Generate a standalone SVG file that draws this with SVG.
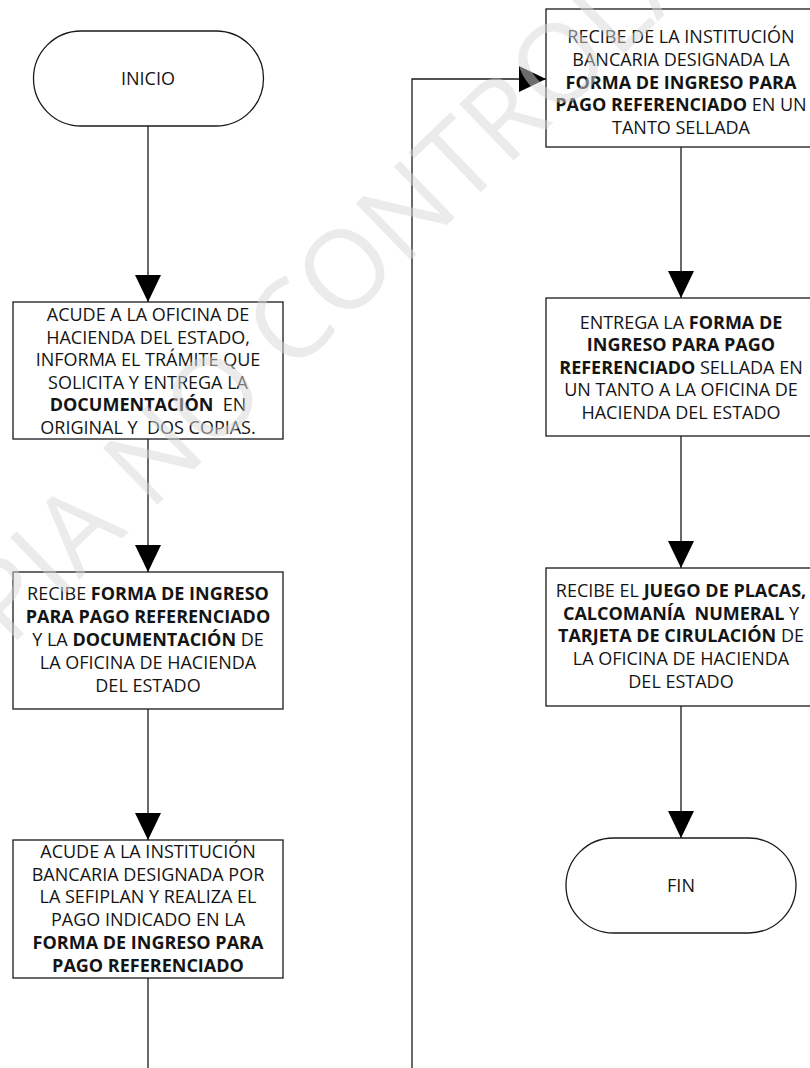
<svg xmlns="http://www.w3.org/2000/svg" width="810" height="1068" viewBox="0 0 810 1068">
  <style>
    .box { fill: #ffffff; stroke: #1a1a1a; stroke-width: 1.3; }
    .lbl { font-family: "Open Sans", "Noto Sans", "Liberation Sans", sans-serif; font-size: 18px; fill: #141414; text-anchor: middle; white-space: pre; }
    .b { font-weight: bold; }
    .wire { fill: none; stroke: #1a1a1a; stroke-width: 1.3; }
    .stamp { font-family: "Open Sans", "Noto Sans", "Liberation Sans", sans-serif; font-size: 110px; fill: #d8d8d8; fill-opacity: 0.5; }
  </style>
  <defs>
    <marker id="head" markerUnits="userSpaceOnUse" markerWidth="27" markerHeight="26" refX="27" refY="13" orient="auto">
      <path d="M0,0 L27,13 L0,26 Z" fill="#000000"/>
    </marker>
  </defs>
  <rect width="810" height="1068" fill="#ffffff"/>

  <!-- connectors -->
  <g id="connectors">
    <path class="wire" d="M148,126 V302" marker-end="url(#head)"/>
    <path class="wire" d="M148,439 V572" marker-end="url(#head)"/>
    <path class="wire" d="M148,709 V840" marker-end="url(#head)"/>
    <path class="wire" d="M148,978 V1068"/>
    <path class="wire" d="M412,1068 V79 H546" marker-end="url(#head)"/>
    <path class="wire" d="M681,147 V298" marker-end="url(#head)"/>
    <path class="wire" d="M681,436 V568" marker-end="url(#head)"/>
    <path class="wire" d="M681,706 V838" marker-end="url(#head)"/>
  </g>

  <!-- left column -->
  <g id="inicio">
    <rect class="box" x="33.5" y="31" width="230" height="95" rx="47.5"/>
    <text class="lbl" x="148" y="84.5">INICIO</text>
  </g>

  <g id="acude-oficina">
    <rect class="box" x="13" y="302" width="270" height="137"/>
    <text class="lbl" x="148" y="321">ACUDE A LA OFICINA DE</text>
    <text class="lbl" x="148" y="343.5">HACIENDA DEL ESTADO,</text>
    <text class="lbl" x="148" y="366">INFORMA EL TRÁMITE QUE</text>
    <text class="lbl" x="148" y="388.5">SOLICITA Y ENTREGA LA</text>
    <text class="lbl" x="148" y="411"><tspan class="b">DOCUMENTACIÓN</tspan>  EN</text>
    <text class="lbl" x="148" y="433.5">ORIGINAL Y  DOS COPIAS.</text>
  </g>

  <g id="recibe-forma">
    <rect class="box" x="13" y="572" width="270" height="137"/>
    <text class="lbl" x="148" y="600">RECIBE <tspan class="b">FORMA DE INGRESO</tspan></text>
    <text class="lbl" x="148" y="623"><tspan class="b">PARA PAGO REFERENCIADO</tspan></text>
    <text class="lbl" x="148" y="646">Y LA <tspan class="b">DOCUMENTACIÓN</tspan> DE</text>
    <text class="lbl" x="148" y="669">LA OFICINA DE HACIENDA</text>
    <text class="lbl" x="148" y="691.5">DEL ESTADO</text>
  </g>

  <g id="acude-banco">
    <rect class="box" x="13" y="840" width="270" height="138"/>
    <text class="lbl" x="148" y="857.5">ACUDE A LA INSTITUCIÓN</text>
    <text class="lbl" x="148" y="880.5">BANCARIA DESIGNADA POR</text>
    <text class="lbl" x="148" y="903">LA SEFIPLAN Y REALIZA EL</text>
    <text class="lbl" x="148" y="926">PAGO INDICADO EN LA</text>
    <text class="lbl" x="148" y="949"><tspan class="b">FORMA DE INGRESO PARA</tspan></text>
    <text class="lbl" x="148" y="971.5"><tspan class="b">PAGO REFERENCIADO</tspan></text>
  </g>

  <!-- right column -->
  <g id="recibe-sellada">
    <rect class="box" x="546" y="9" width="270" height="138"/>
    <text class="lbl" x="681" y="42.5">RECIBE DE LA INSTITUCIÓN</text>
    <text class="lbl" x="681" y="65.5">BANCARIA DESIGNADA LA</text>
    <text class="lbl" x="681" y="88.5"><tspan class="b">FORMA DE INGRESO PARA</tspan></text>
    <text class="lbl" x="681" y="111"><tspan class="b">PAGO REFERENCIADO</tspan> EN UN</text>
    <text class="lbl" x="681" y="133.5">TANTO SELLADA</text>
  </g>

  <g id="entrega-forma">
    <rect class="box" x="546" y="298" width="270" height="138"/>
    <text class="lbl" x="681" y="328.5">ENTREGA LA <tspan class="b">FORMA DE</tspan></text>
    <text class="lbl" x="681" y="351"><tspan class="b">INGRESO PARA PAGO</tspan></text>
    <text class="lbl" x="681" y="373.5"><tspan class="b">REFERENCIADO</tspan> SELLADA EN</text>
    <text class="lbl" x="681" y="396">UN TANTO A LA OFICINA DE</text>
    <text class="lbl" x="681" y="418.5">HACIENDA DEL ESTADO</text>
  </g>

  <g id="recibe-placas">
    <rect class="box" x="546" y="568" width="270" height="138"/>
    <text class="lbl" x="681" y="597">RECIBE EL <tspan class="b">JUEGO DE PLACAS,</tspan></text>
    <text class="lbl" x="681" y="619.5"><tspan class="b">CALCOMANÍA  NUMERAL</tspan> Y</text>
    <text class="lbl" x="681" y="642"><tspan class="b">TARJETA DE CIRULACIÓN</tspan> DE</text>
    <text class="lbl" x="681" y="665">LA OFICINA DE HACIENDA</text>
    <text class="lbl" x="681" y="688">DEL ESTADO</text>
  </g>

  <g id="fin">
    <rect class="box" x="566" y="838" width="230" height="95" rx="47.5"/>
    <text class="lbl" x="681" y="892">FIN</text>
  </g>

  <!-- document stamp across the sheet -->
  <text class="stamp" transform="translate(-102,755) rotate(-44)">COPIA NO CONTROLADA</text>
</svg>
